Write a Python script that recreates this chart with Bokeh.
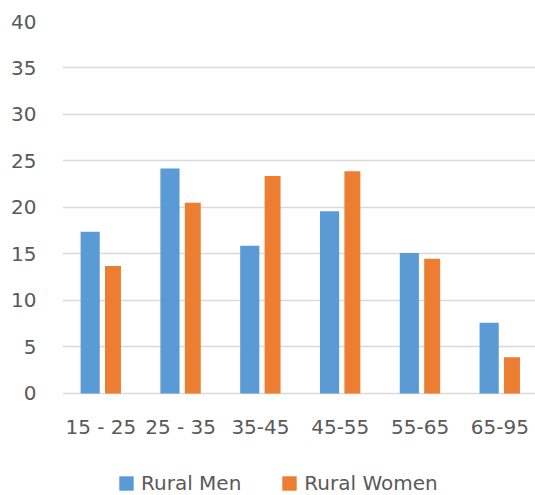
from bokeh.plotting import figure
from bokeh.models import Range1d, FixedTicker, Legend, LegendItem, ColumnDataSource
from bokeh.embed import file_html
from bokeh.resources import INLINE

categories = ["15 - 25", "25 - 35", "35-45", "45-55", "55-65", "65-95"]
rural_men = [17.4, 24.2, 15.9, 19.6, 15.1, 7.6]
rural_women = [13.7, 20.5, 23.4, 23.9, 14.5, 3.9]
y_ticks = [0, 5, 10, 15, 20, 25, 30, 35, 40]

FONT = "DejaVu Sans"
TXT = "#595959"

idx = list(range(len(categories)))
men_src = ColumnDataSource(dict(x=[i - 0.134 for i in idx], top=rural_men))
women_src = ColumnDataSource(dict(x=[i + 0.152 for i in idx], top=rural_women))

p = figure(frame_width=473, frame_height=474,
           min_border_left=62, min_border_right=0, min_border_top=21, min_border_bottom=0,
           x_range=Range1d(-0.4806, 5.4467), y_range=Range1d(-10.968, 40),
           output_backend="svg", toolbar_location=None)
p.outline_line_color = None
p.background_fill_color = "white"
p.border_fill_color = "white"

r1 = p.vbar(x="x", top="top", width=0.24, bottom=0, source=men_src,
            fill_color="#5B9BD5", line_color=None)
r2 = p.vbar(x="x", top="top", width=0.2, bottom=0, source=women_src,
            fill_color="#ED7D31", line_color=None)

p.xgrid.visible = False
p.ygrid.ticker = FixedTicker(ticks=y_ticks)
p.ygrid.grid_line_color = "#d9d9d9"
p.ygrid.grid_line_width = 1.5

p.yaxis.ticker = FixedTicker(ticks=y_ticks)
p.yaxis.axis_line_color = None
p.yaxis.major_tick_line_color = None
p.yaxis.minor_tick_line_color = None
p.yaxis.major_label_standoff = 20
p.yaxis.major_label_text_font = FONT
p.yaxis.major_label_text_font_size = "20px"
p.yaxis.major_label_text_color = TXT

p.xaxis.fixed_location = 0
p.xaxis.ticker = FixedTicker(ticks=idx)
p.xaxis.major_label_overrides = {i: c for i, c in zip(idx, categories)}
p.xaxis.axis_line_color = None
p.xaxis.major_tick_line_color = None
p.xaxis.minor_tick_line_color = None
p.xaxis.major_label_standoff = 16
p.xaxis.major_label_text_font = FONT
p.xaxis.major_label_text_font_size = "20px"
p.xaxis.major_label_text_color = TXT

legend = Legend(items=[LegendItem(label="Rural Men", renderers=[r1]),
                       LegendItem(label="Rural Women", renderers=[r2])],
                orientation="horizontal", location=(55, 0),
                padding=0, margin=0, spacing=39, label_standoff=6,
                glyph_width=18, glyph_height=18,
                label_text_font=FONT, label_text_font_size="20px",
                label_text_color=TXT, border_line_color=None,
                background_fill_alpha=0)
p.add_layout(legend, "center")

open("out.html", "w").write(file_html(p, INLINE))
